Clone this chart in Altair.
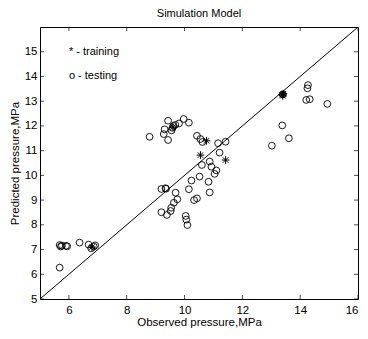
import altair as alt
import pandas as pd

# ---- data ----
test_x = [5.68, 5.72, 5.76, 5.90, 5.94, 6.37, 6.68, 6.77, 6.86, 6.91, 5.68,
          8.79, 9.28, 9.31, 9.43, 9.43, 9.55, 9.58, 9.62, 9.68, 9.81, 9.97, 10.15,
          10.43, 10.55, 10.62, 11.16, 11.42,
          9.20, 9.34, 9.36, 9.69, 9.75, 9.63, 9.54, 9.52, 9.20, 9.39, 10.04, 10.06, 10.10,
          10.15, 10.24, 10.52, 10.33, 10.43, 10.83, 10.87, 10.60, 10.87, 10.93, 11.10, 11.04, 11.21,
          14.27, 14.25, 14.21, 14.33, 14.94, 13.38, 13.61, 13.02, 13.40]
test_y = [7.18, 7.12, 7.16, 7.15, 7.13, 7.28, 7.20, 7.05, 7.12, 7.17, 6.27,
          11.56, 11.67, 11.86, 12.21, 11.43, 11.82, 11.92, 12.00, 12.04, 12.10, 12.28, 12.13,
          11.60, 11.47, 11.35, 11.30, 11.36,
          9.45, 9.48, 9.46, 9.30, 9.03, 8.89, 8.69, 8.56, 8.51, 8.40, 8.36, 8.21, 7.99,
          9.44, 9.79, 9.95, 9.00, 9.07, 9.74, 9.31, 10.42, 10.56, 10.35, 10.20, 10.06, 10.92,
          13.65, 13.52, 13.05, 13.08, 12.89, 12.02, 11.50, 11.20, 13.28]

train_x = [10.55, 10.76, 11.42, 13.38, 13.42, 13.40, 9.60, 6.80]
train_y = [10.82, 11.40, 10.62, 13.26, 13.30, 13.22, 11.95, 7.10]

diag = [5, 16]
x_ticks = [6, 8, 10, 12, 14, 16]
y_ticks = [5, 6, 7, 8, 9, 10, 11, 12, 13, 14, 15]
legend_text = ["* - training", "o - testing"]
legend_x = [6, 6]
legend_y = [15, 14]

W, H = 318, 272
FONT = "Liberation Sans"

xs = alt.Scale(domain=[5, 16], nice=False, zero=False)
ys = alt.Scale(domain=[5, 16], nice=False, zero=False)

test_df = pd.DataFrame({"x": test_x, "y": test_y})
train_df = pd.DataFrame({"x": train_x, "y": train_y})
diag_df = pd.DataFrame({"x": diag, "y": diag})
xt_df = pd.DataFrame({"x": x_ticks})
yt_df = pd.DataFrame({"y": y_ticks})
leg_df = pd.DataFrame({"x": legend_x, "y": legend_y, "label": legend_text})

x_axis = alt.Axis(
    title="Observed pressure,MPa", values=x_ticks, ticks=False, domain=False, grid=False,
    labelPadding=5, titlePadding=1, labelFontSize=11.5, titleFontSize=11.5,
    labelFont=FONT, titleFont=FONT, labelColor="black", titleColor="black",
    titleFontWeight="normal")
y_axis = alt.Axis(
    title="Predicted pressure,MPa", values=y_ticks, ticks=False, domain=False, grid=False,
    labelPadding=3, titlePadding=4, labelFontSize=11.5, titleFontSize=11.5,
    labelFont=FONT, titleFont=FONT, labelColor="black", titleColor="black",
    titleFontWeight="normal")

line = alt.Chart(diag_df).mark_line(color="black", strokeWidth=1, clip=True).encode(
    x=alt.X("x:Q", scale=xs, axis=x_axis),
    y=alt.Y("y:Q", scale=ys, axis=y_axis),
)

circles = alt.Chart(test_df).mark_point(
    shape="circle", filled=False, stroke="black", strokeWidth=0.9, size=46, opacity=1
).encode(
    x=alt.X("x:Q", scale=xs, axis=x_axis),
    y=alt.Y("y:Q", scale=ys, axis=y_axis),
)

asterisk = "M-1,0L1,0M0,-1L0,1M-0.7,-0.7L0.7,0.7M-0.7,0.7L0.7,-0.7"
stars = alt.Chart(train_df).mark_point(
    shape=asterisk, filled=False, stroke="black", strokeWidth=1, size=60, opacity=1
).encode(
    x=alt.X("x:Q", scale=xs, axis=x_axis),
    y=alt.Y("y:Q", scale=ys, axis=y_axis),
)

bt = alt.Chart(xt_df).mark_tick(orient="vertical", color="black", thickness=1).encode(
    x=alt.X("x:Q", scale=xs, axis=x_axis), y=alt.value(H - 2), size=alt.value(4))
tt = alt.Chart(xt_df).mark_tick(orient="vertical", color="black", thickness=1).encode(
    x=alt.X("x:Q", scale=xs, axis=x_axis), y=alt.value(2), size=alt.value(4))
lt = alt.Chart(yt_df).mark_tick(orient="horizontal", color="black", thickness=1).encode(
    y=alt.Y("y:Q", scale=ys, axis=y_axis), x=alt.value(2), size=alt.value(4))
rt = alt.Chart(yt_df).mark_tick(orient="horizontal", color="black", thickness=1).encode(
    y=alt.Y("y:Q", scale=ys, axis=y_axis), x=alt.value(W - 2), size=alt.value(4))

legend = alt.Chart(leg_df).mark_text(
    align="left", baseline="middle", font=FONT, fontSize=11, color="black"
).encode(
    x=alt.X("x:Q", scale=xs, axis=x_axis),
    y=alt.Y("y:Q", scale=ys, axis=y_axis),
    text="label:N",
)

chart = alt.layer(line, circles, stars, bt, tt, lt, rt, legend).properties(
    width=W, height=H,
    title=alt.TitleParams("Simulation Model", font=FONT, fontSize=11, fontWeight="normal",
                          color="black", offset=8),
    autosize="none",
    padding={"left": 40, "top": 27, "right": 10, "bottom": 40},
    background="white",
).configure_view(stroke="black", strokeWidth=1)

chart.save("out.html", embed_options={"renderer": "svg", "actions": False})
